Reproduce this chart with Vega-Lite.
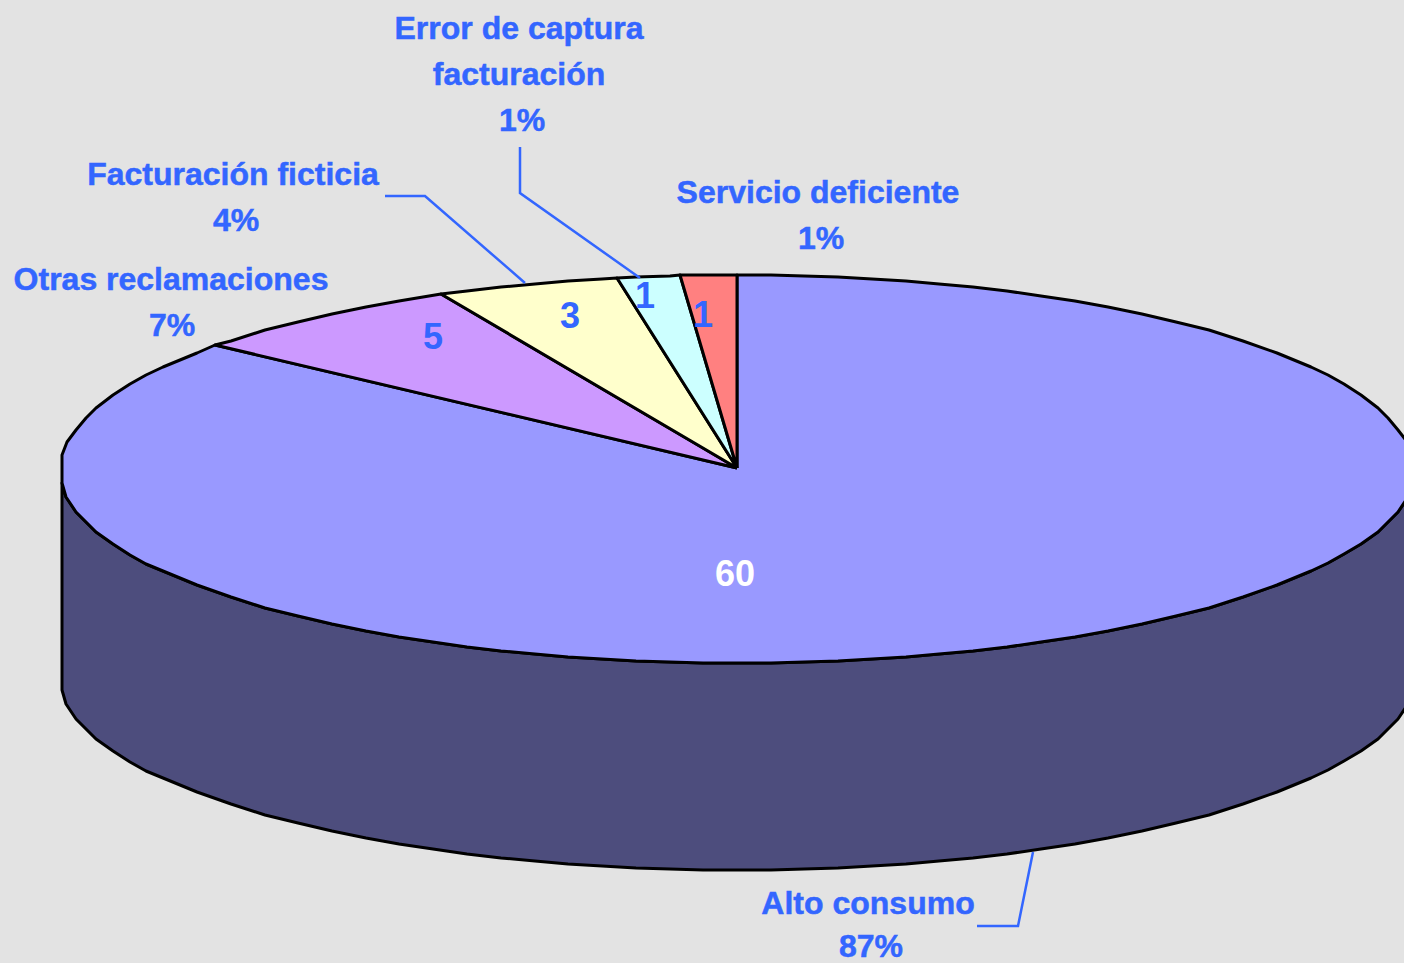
{"$schema":"https://vega.github.io/schema/vega-lite/v6.json","width":1404,"height":963,"autosize":{"type":"none"},"padding":0,"background":"#e3e3e3","config":{"view":{"stroke":null}},
"datasets":{
"shapes":[
{"part":"Pared","i":1,"x":1412,"y":483},{"part":"Pared","i":2,"x":1408,"y":497},{"part":"Pared","i":3,"x":1398,"y":512},{"part":"Pared","i":4,"x":1388,"y":522},{"part":"Pared","i":5,"x":1378,"y":532},{"part":"Pared","i":6,"x":1361,"y":544},{"part":"Pared","i":7,"x":1344,"y":554},{"part":"Pared","i":8,"x":1328,"y":563},{"part":"Pared","i":9,"x":1311,"y":571},{"part":"Pared","i":10,"x":1277,"y":585},{"part":"Pared","i":11,"x":1243,"y":597},{"part":"Pared","i":12,"x":1209,"y":608},{"part":"Pared","i":13,"x":1176,"y":616},{"part":"Pared","i":14,"x":1142,"y":624},{"part":"Pared","i":15,"x":1108,"y":631},{"part":"Pared","i":16,"x":1075,"y":637},{"part":"Pared","i":17,"x":1041,"y":642},{"part":"Pared","i":18,"x":1007,"y":647},{"part":"Pared","i":19,"x":973,"y":651},{"part":"Pared","i":20,"x":939,"y":654},{"part":"Pared","i":21,"x":906,"y":657},{"part":"Pared","i":22,"x":872,"y":659},{"part":"Pared","i":23,"x":838,"y":661},{"part":"Pared","i":24,"x":804,"y":662},{"part":"Pared","i":25,"x":771,"y":663},{"part":"Pared","i":26,"x":737,"y":663},{"part":"Pared","i":27,"x":703,"y":663},{"part":"Pared","i":28,"x":670,"y":662},{"part":"Pared","i":29,"x":636,"y":661},{"part":"Pared","i":30,"x":602,"y":659},{"part":"Pared","i":31,"x":568,"y":657},{"part":"Pared","i":32,"x":535,"y":654},{"part":"Pared","i":33,"x":501,"y":651},{"part":"Pared","i":34,"x":467,"y":647},{"part":"Pared","i":35,"x":433,"y":642},{"part":"Pared","i":36,"x":399,"y":637},{"part":"Pared","i":37,"x":366,"y":631},{"part":"Pared","i":38,"x":332,"y":624},{"part":"Pared","i":39,"x":298,"y":616},{"part":"Pared","i":40,"x":265,"y":608},{"part":"Pared","i":41,"x":231,"y":597},{"part":"Pared","i":42,"x":197,"y":585},{"part":"Pared","i":43,"x":163,"y":571},{"part":"Pared","i":44,"x":146,"y":564},{"part":"Pared","i":45,"x":130,"y":555},{"part":"Pared","i":46,"x":113,"y":544},{"part":"Pared","i":47,"x":96,"y":532},{"part":"Pared","i":48,"x":86,"y":522},{"part":"Pared","i":49,"x":76,"y":512},{"part":"Pared","i":50,"x":66,"y":497},{"part":"Pared","i":51,"x":62,"y":483},
{"part":"Pared","i":52,"x":62,"y":690},{"part":"Pared","i":53,"x":66,"y":704},{"part":"Pared","i":54,"x":76,"y":719},{"part":"Pared","i":55,"x":86,"y":729},{"part":"Pared","i":56,"x":96,"y":739},{"part":"Pared","i":57,"x":113,"y":751},{"part":"Pared","i":58,"x":130,"y":762},{"part":"Pared","i":59,"x":146,"y":771},{"part":"Pared","i":60,"x":163,"y":778},{"part":"Pared","i":61,"x":197,"y":792},{"part":"Pared","i":62,"x":231,"y":804},{"part":"Pared","i":63,"x":265,"y":815},{"part":"Pared","i":64,"x":298,"y":823},{"part":"Pared","i":65,"x":332,"y":831},{"part":"Pared","i":66,"x":366,"y":838},{"part":"Pared","i":67,"x":399,"y":844},{"part":"Pared","i":68,"x":433,"y":849},{"part":"Pared","i":69,"x":467,"y":854},{"part":"Pared","i":70,"x":501,"y":858},{"part":"Pared","i":71,"x":535,"y":861},{"part":"Pared","i":72,"x":568,"y":864},{"part":"Pared","i":73,"x":602,"y":866},{"part":"Pared","i":74,"x":636,"y":868},{"part":"Pared","i":75,"x":670,"y":869},{"part":"Pared","i":76,"x":703,"y":870},{"part":"Pared","i":77,"x":737,"y":870},{"part":"Pared","i":78,"x":771,"y":870},{"part":"Pared","i":79,"x":804,"y":869},{"part":"Pared","i":80,"x":838,"y":868},{"part":"Pared","i":81,"x":872,"y":866},{"part":"Pared","i":82,"x":906,"y":864},{"part":"Pared","i":83,"x":939,"y":861},{"part":"Pared","i":84,"x":973,"y":858},{"part":"Pared","i":85,"x":1007,"y":854},{"part":"Pared","i":86,"x":1041,"y":849},{"part":"Pared","i":87,"x":1075,"y":844},{"part":"Pared","i":88,"x":1108,"y":838},{"part":"Pared","i":89,"x":1142,"y":831},{"part":"Pared","i":90,"x":1176,"y":823},{"part":"Pared","i":91,"x":1209,"y":815},{"part":"Pared","i":92,"x":1243,"y":804},{"part":"Pared","i":93,"x":1277,"y":792},{"part":"Pared","i":94,"x":1311,"y":778},{"part":"Pared","i":95,"x":1328,"y":770},{"part":"Pared","i":96,"x":1344,"y":761},{"part":"Pared","i":97,"x":1361,"y":751},{"part":"Pared","i":98,"x":1378,"y":739},{"part":"Pared","i":99,"x":1388,"y":729},{"part":"Pared","i":100,"x":1398,"y":719},{"part":"Pared","i":101,"x":1408,"y":704},{"part":"Pared","i":102,"x":1412,"y":690},{"part":"Pared","i":103,"x":1412,"y":483},
{"part":"Alto consumo","i":1,"x":737,"y":468},{"part":"Alto consumo","i":2,"x":737,"y":275},{"part":"Alto consumo","i":3,"x":771,"y":275},{"part":"Alto consumo","i":4,"x":804,"y":276},{"part":"Alto consumo","i":5,"x":838,"y":277},{"part":"Alto consumo","i":6,"x":872,"y":279},{"part":"Alto consumo","i":7,"x":906,"y":281},{"part":"Alto consumo","i":8,"x":939,"y":284},{"part":"Alto consumo","i":9,"x":973,"y":287},{"part":"Alto consumo","i":10,"x":1007,"y":291},{"part":"Alto consumo","i":11,"x":1041,"y":296},{"part":"Alto consumo","i":12,"x":1075,"y":301},{"part":"Alto consumo","i":13,"x":1108,"y":307},{"part":"Alto consumo","i":14,"x":1142,"y":314},{"part":"Alto consumo","i":15,"x":1176,"y":322},{"part":"Alto consumo","i":16,"x":1209,"y":330},{"part":"Alto consumo","i":17,"x":1243,"y":341},{"part":"Alto consumo","i":18,"x":1277,"y":353},{"part":"Alto consumo","i":19,"x":1311,"y":367},{"part":"Alto consumo","i":20,"x":1328,"y":375},{"part":"Alto consumo","i":21,"x":1344,"y":384},{"part":"Alto consumo","i":22,"x":1361,"y":395},{"part":"Alto consumo","i":23,"x":1378,"y":408},{"part":"Alto consumo","i":24,"x":1388,"y":418},{"part":"Alto consumo","i":25,"x":1398,"y":430},{"part":"Alto consumo","i":26,"x":1408,"y":443},{"part":"Alto consumo","i":27,"x":1412,"y":455},{"part":"Alto consumo","i":28,"x":1412,"y":483},{"part":"Alto consumo","i":29,"x":1408,"y":497},{"part":"Alto consumo","i":30,"x":1398,"y":512},{"part":"Alto consumo","i":31,"x":1388,"y":522},{"part":"Alto consumo","i":32,"x":1378,"y":532},{"part":"Alto consumo","i":33,"x":1361,"y":544},{"part":"Alto consumo","i":34,"x":1344,"y":554},{"part":"Alto consumo","i":35,"x":1328,"y":563},{"part":"Alto consumo","i":36,"x":1311,"y":571},{"part":"Alto consumo","i":37,"x":1277,"y":585},{"part":"Alto consumo","i":38,"x":1243,"y":597},{"part":"Alto consumo","i":39,"x":1209,"y":608},{"part":"Alto consumo","i":40,"x":1176,"y":616},{"part":"Alto consumo","i":41,"x":1142,"y":624},{"part":"Alto consumo","i":42,"x":1108,"y":631},{"part":"Alto consumo","i":43,"x":1075,"y":637},{"part":"Alto consumo","i":44,"x":1041,"y":642},{"part":"Alto consumo","i":45,"x":1007,"y":647},{"part":"Alto consumo","i":46,"x":973,"y":651},{"part":"Alto consumo","i":47,"x":939,"y":654},{"part":"Alto consumo","i":48,"x":906,"y":657},{"part":"Alto consumo","i":49,"x":872,"y":659},{"part":"Alto consumo","i":50,"x":838,"y":661},{"part":"Alto consumo","i":51,"x":804,"y":662},{"part":"Alto consumo","i":52,"x":771,"y":663},{"part":"Alto consumo","i":53,"x":737,"y":663},{"part":"Alto consumo","i":54,"x":703,"y":663},{"part":"Alto consumo","i":55,"x":670,"y":662},{"part":"Alto consumo","i":56,"x":636,"y":661},{"part":"Alto consumo","i":57,"x":602,"y":659},{"part":"Alto consumo","i":58,"x":568,"y":657},{"part":"Alto consumo","i":59,"x":535,"y":654},{"part":"Alto consumo","i":60,"x":501,"y":651},{"part":"Alto consumo","i":61,"x":467,"y":647},{"part":"Alto consumo","i":62,"x":433,"y":642},{"part":"Alto consumo","i":63,"x":399,"y":637},{"part":"Alto consumo","i":64,"x":366,"y":631},{"part":"Alto consumo","i":65,"x":332,"y":624},{"part":"Alto consumo","i":66,"x":298,"y":616},{"part":"Alto consumo","i":67,"x":265,"y":608},{"part":"Alto consumo","i":68,"x":231,"y":597},{"part":"Alto consumo","i":69,"x":197,"y":585},{"part":"Alto consumo","i":70,"x":163,"y":571},{"part":"Alto consumo","i":71,"x":146,"y":564},{"part":"Alto consumo","i":72,"x":130,"y":555},{"part":"Alto consumo","i":73,"x":113,"y":544},{"part":"Alto consumo","i":74,"x":96,"y":532},{"part":"Alto consumo","i":75,"x":86,"y":522},{"part":"Alto consumo","i":76,"x":76,"y":512},{"part":"Alto consumo","i":77,"x":66,"y":497},{"part":"Alto consumo","i":78,"x":62,"y":483},{"part":"Alto consumo","i":79,"x":62,"y":455},{"part":"Alto consumo","i":80,"x":67,"y":442},{"part":"Alto consumo","i":81,"x":76,"y":430},{"part":"Alto consumo","i":82,"x":86,"y":418},{"part":"Alto consumo","i":83,"x":96,"y":408},{"part":"Alto consumo","i":84,"x":113,"y":395},{"part":"Alto consumo","i":85,"x":130,"y":384},{"part":"Alto consumo","i":86,"x":146,"y":375},{"part":"Alto consumo","i":87,"x":163,"y":367},{"part":"Alto consumo","i":88,"x":197,"y":353},{"part":"Alto consumo","i":89,"x":215,"y":345},{"part":"Alto consumo","i":90,"x":737,"y":468},
{"part":"Otras reclamaciones","i":1,"x":737,"y":468},{"part":"Otras reclamaciones","i":2,"x":215,"y":345},{"part":"Otras reclamaciones","i":3,"x":231,"y":341},{"part":"Otras reclamaciones","i":4,"x":265,"y":330},{"part":"Otras reclamaciones","i":5,"x":298,"y":322},{"part":"Otras reclamaciones","i":6,"x":332,"y":314},{"part":"Otras reclamaciones","i":7,"x":366,"y":307},{"part":"Otras reclamaciones","i":8,"x":399,"y":301},{"part":"Otras reclamaciones","i":9,"x":441,"y":294},{"part":"Otras reclamaciones","i":10,"x":737,"y":468},
{"part":"Facturación ficticia","i":1,"x":737,"y":468},{"part":"Facturación ficticia","i":2,"x":441,"y":294},{"part":"Facturación ficticia","i":3,"x":467,"y":291},{"part":"Facturación ficticia","i":4,"x":501,"y":287},{"part":"Facturación ficticia","i":5,"x":535,"y":284},{"part":"Facturación ficticia","i":6,"x":568,"y":281},{"part":"Facturación ficticia","i":7,"x":602,"y":279},{"part":"Facturación ficticia","i":8,"x":617,"y":278},{"part":"Facturación ficticia","i":9,"x":737,"y":468},
{"part":"Error de captura","i":1,"x":737,"y":468},{"part":"Error de captura","i":2,"x":617,"y":278},{"part":"Error de captura","i":3,"x":636,"y":277},{"part":"Error de captura","i":4,"x":670,"y":276},{"part":"Error de captura","i":5,"x":680,"y":275},{"part":"Error de captura","i":6,"x":737,"y":468},
{"part":"Servicio deficiente","i":1,"x":737,"y":468},{"part":"Servicio deficiente","i":2,"x":680,"y":275},{"part":"Servicio deficiente","i":3,"x":703,"y":275},{"part":"Servicio deficiente","i":4,"x":737,"y":275},{"part":"Servicio deficiente","i":5,"x":737,"y":468}
],
"leaders":[
{"label":"a","i":1,"x":385,"y":196},{"label":"a","i":2,"x":425,"y":196},{"label":"a","i":3,"x":525,"y":283},
{"label":"b","i":1,"x":520,"y":147},{"label":"b","i":2,"x":520,"y":193},{"label":"b","i":3,"x":640,"y":278},
{"label":"c","i":1,"x":977,"y":926},{"label":"c","i":2,"x":1018,"y":926},{"label":"c","i":3,"x":1033,"y":852}
],
"labels":[
{"t":"Error de captura","x":519,"y":39},{"t":"facturación","x":519,"y":85},{"t":"1%","x":522,"y":131},
{"t":"Facturación ficticia","x":233,"y":185},{"t":"4%","x":236,"y":231},
{"t":"Otras reclamaciones","x":171,"y":290},{"t":"7%","x":172,"y":336},
{"t":"Servicio deficiente","x":818,"y":203},{"t":"1%","x":821,"y":249},
{"t":"Alto consumo","x":868,"y":914},{"t":"87%","x":871,"y":957}
],
"values":[
{"t":"5","x":433,"y":349,"kind":"blue"},{"t":"3","x":570,"y":328,"kind":"blue"},{"t":"1","x":645,"y":308,"kind":"blue"},{"t":"1","x":703,"y":327,"kind":"blue"},{"t":"60","x":735,"y":586,"kind":"white"}
]},
"encoding":{
"x":{"field":"x","type":"quantitative","scale":{"domain":[0,1404],"nice":false,"zero":false},"axis":null},
"y":{"field":"y","type":"quantitative","scale":{"domain":[963,0],"nice":false,"zero":false},"axis":null}
},
"layer":[
{"data":{"name":"shapes"},"mark":{"type":"line","stroke":"#000000","strokeWidth":3,"clip":true,"interpolate":"linear","strokeJoin":"round"},
"encoding":{"order":{"field":"i","type":"quantitative"},"fill":{"field":"part","type":"nominal","legend":null,"scale":{"domain":["Pared","Alto consumo","Otras reclamaciones","Facturación ficticia","Error de captura","Servicio deficiente"],"range":["#4d4d7d","#9999ff","#cc99ff","#ffffcc","#ccffff","#ff8080"]}}}},
{"data":{"name":"leaders"},"mark":{"type":"line","stroke":"#3366ff","strokeWidth":2.5},"encoding":{"detail":{"field":"label"},"order":{"field":"i","type":"quantitative"}}},
{"data":{"name":"labels"},"mark":{"type":"text","font":"Liberation Sans","fontWeight":"bold","fontSize":32,"align":"center","baseline":"alphabetic","fill":"#3366ff","stroke":"#3366ff","strokeWidth":0.5},"encoding":{"text":{"field":"t"}}},
{"data":{"name":"values"},"mark":{"type":"text","font":"Liberation Sans","fontWeight":"bold","fontSize":36,"align":"center","baseline":"alphabetic"},"encoding":{"text":{"field":"t"},"fill":{"field":"kind","type":"nominal","legend":null,"scale":{"domain":["blue","white"],"range":["#3366ff","#ffffff"]}}}}
],
"resolve":{"scale":{"fill":"independent"}}}
